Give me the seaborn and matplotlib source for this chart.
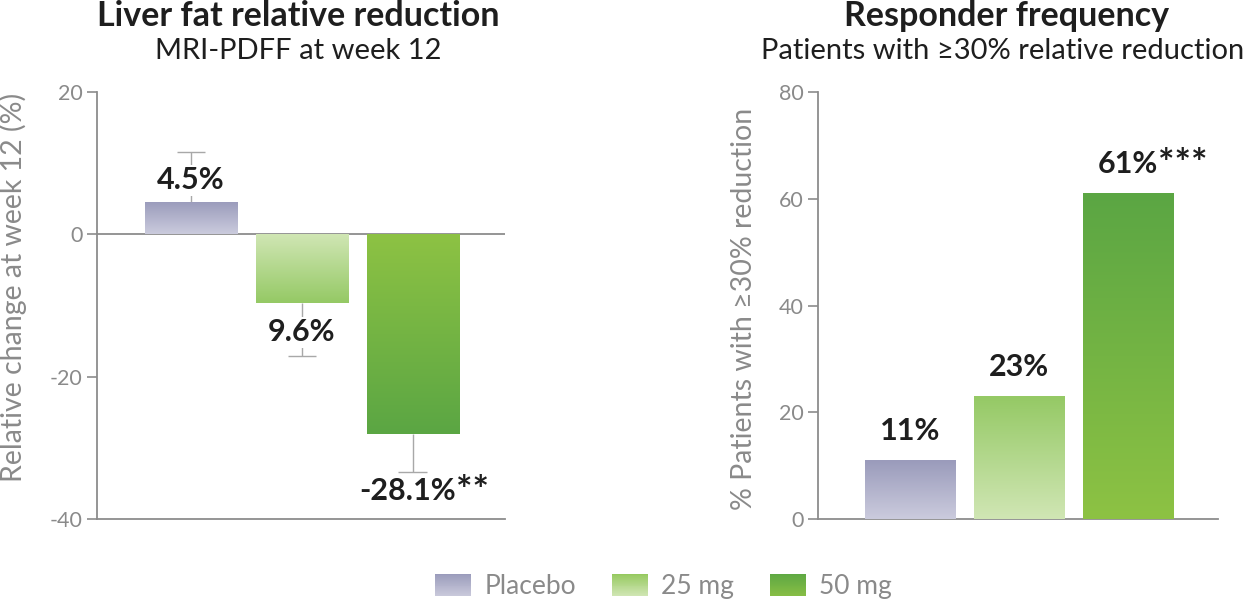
import numpy as np
import pandas as pd
import matplotlib
matplotlib.use("Agg")
import matplotlib.pyplot as plt
import seaborn as sns
from matplotlib.colors import to_rgb
from matplotlib.patches import Rectangle, Patch
from matplotlib.legend_handler import HandlerBase

# ---- data ----
groups = ["Placebo", "25 mg", "50 mg"]
liver_change = [4.5, -9.6, -28.1]
liver_err = [7.0, 7.5, 5.3]
liver_nums = ["4.5%", "9.6%", "-28.1%"]
liver_stars = ["", "", "**"]
responders = [11, 23, 61]
resp_nums = ["11%", "23%", "61%"]
resp_stars = ["", "", "***"]
left_yticks = [20, 0, -20, -40]
right_yticks = [0, 20, 40, 60, 80]

# gradient colours: (end of bar = dark, base = light)
grad_end = ["#9a9bbb", "#95c965", "#5ba644"]
grad_base = ["#cbcbdd", "#d0e6b4", "#8dc243"]

sns.set_theme(style="white")
plt.rcParams["font.family"] = ["Lato", "DejaVu Sans"]
plt.rcParams["axes.unicode_minus"] = False

GRAY = "#8a8a8a"
AXC = "#8c8c8c"
TXT = "#1e1e1e"
LBL = 22

fig = plt.figure(figsize=(12.54, 6.0), dpi=100)
axL = fig.add_axes([97/1254, 81/600, (505-97)/1254, (519-92)/600])
axR = fig.add_axes([818/1254, 81/600, (1218-818)/1254, (519-92)/600])

palette = dict(zip(groups, grad_end))
dfL = pd.DataFrame({"group": groups, "val": liver_change})
dfR = pd.DataFrame({"group": groups, "val": responders})
sns.barplot(data=dfL, x="group", y="val", hue="group", palette=palette,
            width=0.83, legend=False, ax=axL, zorder=3)
sns.barplot(data=dfR, x="group", y="val", hue="group", palette=palette,
            width=0.826, legend=False, ax=axR, zorder=3)


def gradientize(ax, bars, values):
    for bar, v, ce, cb in zip(bars, values, grad_end, grad_base):
        x, y = bar.get_x(), bar.get_y()
        w, h = bar.get_width(), bar.get_height()
        y0, y1 = min(y, y + h), max(y, y + h)
        n = 100
        t = np.linspace(0, 1, n)[:, None]
        ce_, cb_ = np.array(to_rgb(ce)), np.array(to_rgb(cb))
        if v >= 0:
            cols = cb_ * (1 - t) + ce_ * t  # bottom base -> top end
        else:
            cols = ce_ * (1 - t) + cb_ * t  # bottom end -> top base
        img = cols[:, None, :]
        im = ax.imshow(img, extent=[x, x + w, y0, y1], origin="lower",
                       aspect="auto", zorder=3, interpolation="bicubic")
        im.set_clip_path(bar)
        bar.set_facecolor("none")
        bar.set_edgecolor("none")


barsL = [p for p in axL.patches]
barsR = [p for p in axR.patches]
gradientize(axL, barsL, liver_change)
gradientize(axR, barsR, responders)

axL.set_xlim(-0.847, 2.83)
axL.set_ylim(-40, 20)
axR.set_xlim(-0.844, 2.826)
axR.set_ylim(0, 80)

# error bars (one-sided, outward)
xs = np.arange(len(groups))
ends = [v + np.sign(v) * e for v, e in zip(liver_change, liver_err)]
axL.vlines(xs, liver_change, ends, color="#a8a8a8", lw=1.0, zorder=2)
axL.hlines(ends, xs - 0.13, xs + 0.13, color="#a8a8a8", lw=1.0, zorder=2)

axL.axhline(0, color=AXC, lw=1.3, zorder=2)

for ax in (axL, axR):
    for s in ("top", "right"):
        ax.spines[s].set_visible(False)
    for s in ("left", "bottom"):
        ax.spines[s].set_color(AXC)
        ax.spines[s].set_linewidth(1.3)
    ax.set_xticks([])
    ax.set_xlabel("")
    ax.tick_params(axis="y", direction="out", length=7.2, width=1.2, color=AXC,
                   labelcolor=GRAY, labelsize=15.5, pad=3, left=True)

axL.set_yticks(left_yticks)
axR.set_yticks(right_yticks)
axL.set_ylabel("Relative change at week 12 (%)", color=GRAY, fontsize=20.5)
axR.set_ylabel("% Patients with ≥30% reduction", color=GRAY, fontsize=20.5)
axL.yaxis.set_label_coords(-0.172, 0.543)
axR.yaxis.set_label_coords(-0.152, 0.492)


def star_after(ax, t, stars):
    if stars:
        ax.annotate(stars, xy=(1, 0.5), xycoords=t, xytext=(0, 0),
                    textcoords="offset points", ha="left", va="center",
                    fontsize=28, fontweight="bold", color=TXT, zorder=5)


# value labels, left
lab_off = [7.6 - 4.5, -13.75 + 9.6, -36.1 + 28.1]
for i, (v, lab, st) in enumerate(zip(liver_change, liver_nums, liver_stars)):
    t = axL.text(i - 0.05 * (i == 2), v + lab_off[i], lab, ha="center", va="center",
                 fontsize=LBL, fontweight="bold", color=TXT, zorder=5,
                 bbox=dict(facecolor="white", edgecolor="none", pad=1.0))
    star_after(axL, t, st)

# value labels, right
for i, (v, lab, st) in enumerate(zip(responders, resp_nums, resp_stars)):
    t = axR.annotate(lab, (i, v), xytext=(0, 21), textcoords="offset points",
                     ha="center", va="center", fontsize=LBL, fontweight="bold",
                     color=TXT, zorder=5)
    star_after(axR, t, st)

# titles
fig.text(298/1254, 1 - 16/600, "Liver fat relative reduction", ha="center",
         va="center", fontsize=24.5, fontweight="bold", color=TXT)
fig.text(298/1254, 1 - 51/600, "MRI-PDFF at week 12", ha="center",
         va="center", fontsize=21, color=TXT)
fig.text(1007/1254, 1 - 16/600, "Responder frequency", ha="center",
         va="center", fontsize=24.5, fontweight="bold", color=TXT)
fig.text(1003/1254, 1 - 51/600, "Patients with ≥30% relative reduction",
         ha="center", va="center", fontsize=21, color=TXT)


# legend with gradient patches
class GradHandler(HandlerBase):
    def __init__(self, top, bottom, n=24):
        super().__init__()
        self.top = np.array(to_rgb(top))
        self.bottom = np.array(to_rgb(bottom))
        self.n = n

    def create_artists(self, legend, orig_handle, xdescent, ydescent,
                       width, height, fontsize, trans):
        arts = []
        for i in range(self.n):
            t = i / (self.n - 1)
            col = self.bottom * (1 - t) + self.top * t
            r = Rectangle((-xdescent, -ydescent + height * i / self.n), width,
                          height / self.n * 1.08, facecolor=col,
                          edgecolor="none", transform=trans)
            arts.append(r)
        return arts


leg_top = ["#9a9bbb", "#95c95f", "#5ea843"]
leg_bot = ["#c8c8da", "#cfe5b2", "#86bd45"]
handles = [Patch(label=g) for g in groups]
hmap = {h: GradHandler(t, b) for h, t, b in zip(handles, leg_top, leg_bot)}
fig.legend(handles=handles, labels=groups, handler_map=hmap, loc="center",
           bbox_to_anchor=(0.529, 0.023), ncol=3, frameon=False,
           fontsize=19, labelcolor=GRAY, handlelength=1.36, handleheight=0.9,
           handletextpad=0.5, columnspacing=1.36, borderpad=0.0)

fig.savefig("out.png", dpi=100)
